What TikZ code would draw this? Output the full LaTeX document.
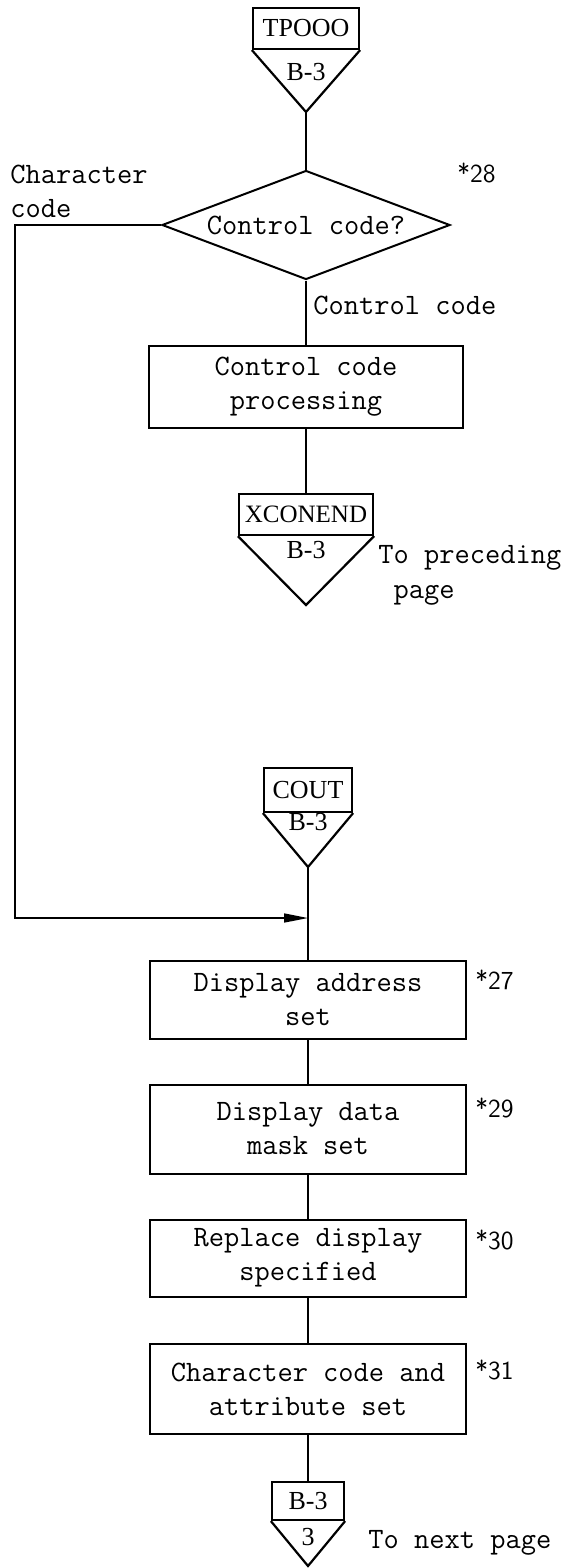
\documentclass[tikz,border=0pt]{standalone}
\usepackage{fontspec}
\newfontfamily\lblfont{Liberation Serif}
\usetikzlibrary{positioning, shapes.geometric, arrows.meta}

\begin{document}
\begin{tikzpicture}[x=0.5pt, y=-0.5pt,
    % Block styles
    proc/.style={
      rectangle, draw=black, line width=1pt,
      minimum width=158pt, inner sep=0pt,
      font=\ttfamily\fontsize{14.8}{17}\selectfont, align=center
    },
    decide/.style={
      diamond, draw=black, line width=1pt, inner sep=0pt,
      minimum width=144pt, minimum height=54.5pt
    },
    pagebox/.style={
      rectangle, draw=black, line width=1.1pt, inner sep=0pt,
      minimum height=20.5pt, font=\lblfont\fontsize{13}{15}\selectfont
    },
    pageref/.style={font=\lblfont\fontsize{13}{15}\selectfont, inner sep=0pt},
    pagetip/.style={draw=black, line width=1.1pt, line join=miter},
    note/.style={
      font=\ttfamily\fontsize{14.8}{17}\selectfont,
      align=left, anchor=west, inner sep=0pt
    },
    remark/.style={font=\sffamily\fontsize{13}{15}\selectfont, anchor=west, inner sep=0pt},
    connector/.style={draw=black, line width=0.8pt},
  ]
  \useasboundingbox (0,0) rectangle (572,1568);

  % === Entry connector ===
  \node[pagebox, minimum width=53pt] (tp) at (306,28.5) {TPOOO};
  \coordinate (tptip) at (306,112);
  \draw[pagetip] (tp.south west) -- (tptip) -- (tp.south east);
  \node[pageref] (tpref) at (306,72) {B-3};

  % === Decision ===
  \node[decide] (q) at (306,225) {};
  \node[note, anchor=center] (qtext) at (q) {Control code?};
  \node[remark] (q28) at (457,173) {*28};
  \node[note] (qleft) at (10,191) {Character\\code};
  \node[note] (qdown) at (313,305) {Control code};

  % === Control code branch ===
  \node[proc, minimum width=157pt, minimum height=41pt] (ctl) at (306,387) {Control code\\processing};
  \node[pagebox, minimum width=67pt, font=\lblfont\fontsize{12.5}{15}\selectfont] (xc) at (306,514.5) {XCONEND};
  \coordinate (xctip) at (306,605);
  \draw[pagetip] (xc.south west) -- (xctip) -- (xc.south east);
  \node[pageref] (xcref) at (306,550) {B-3};
  \node[note, font=\ttfamily\fontsize{14.8}{17.5}\selectfont] (xcnote) at (378,575) {To preceding\\\ page};

  % === Character code branch ===
  \node[pagebox, minimum width=44pt, minimum height=22pt] (cout) at (308,790) {COUT};
  \coordinate (couttip) at (308,867);
  \draw[pagetip] (cout.south west) -- (couttip) -- (cout.south east);
  \node[pageref] (coutref) at (308,822) {B-3};

  \coordinate (bend) at (15,918);
  \coordinate (join) at (308,918);
  \draw[connector, -{Triangle[length=12pt, width=4.5pt]}] (q.west) -| (bend) -- (join);

  % === Main sequence ===
  \node[proc, minimum height=39pt] (s27) at (308,1000) {Display address\\set};
  \node[proc, minimum height=44.5pt] (s29) at (308,1129) {Display data\\mask set};
  \node[proc, minimum height=38.5pt] (s30) at (308,1258) {Replace display\\specified};
  \node[proc, minimum height=45pt] (s31) at (308,1389) {Character code and\\attribute set};

  \node[remark] (r27) at (475,980) {*27};
  \node[remark] (r29) at (475,1108) {*29};
  \node[remark] (r30) at (475,1240) {*30};
  \node[remark] (r31) at (475,1370) {*31};

  % === Exit connector ===
  \node[pagebox, minimum width=36pt, minimum height=19pt] (nxt) at (308,1501) {B-3};
  \coordinate (nxttip) at (308,1566);
  \draw[pagetip] (nxt.south west) -- (nxttip) -- (nxt.south east);
  \node[pageref] (nxtref) at (308,1537) {3};
  \node[note] (nxtnote) at (368,1543) {To next page};

  % Flow lines
  \draw[connector] (tptip) -- (q.north);
  \draw[connector] (q.south) -- (ctl.north);
  \draw[connector] (ctl.south) -- (xc.north);
  \draw[connector] (couttip) -- (s27.north);
  \draw[connector] (s27.south) -- (s29.north);
  \draw[connector] (s29.south) -- (s30.north);
  \draw[connector] (s30.south) -- (s31.north);
  \draw[connector] (s31.south) -- (nxt.north);

\end{tikzpicture}
\end{document}
